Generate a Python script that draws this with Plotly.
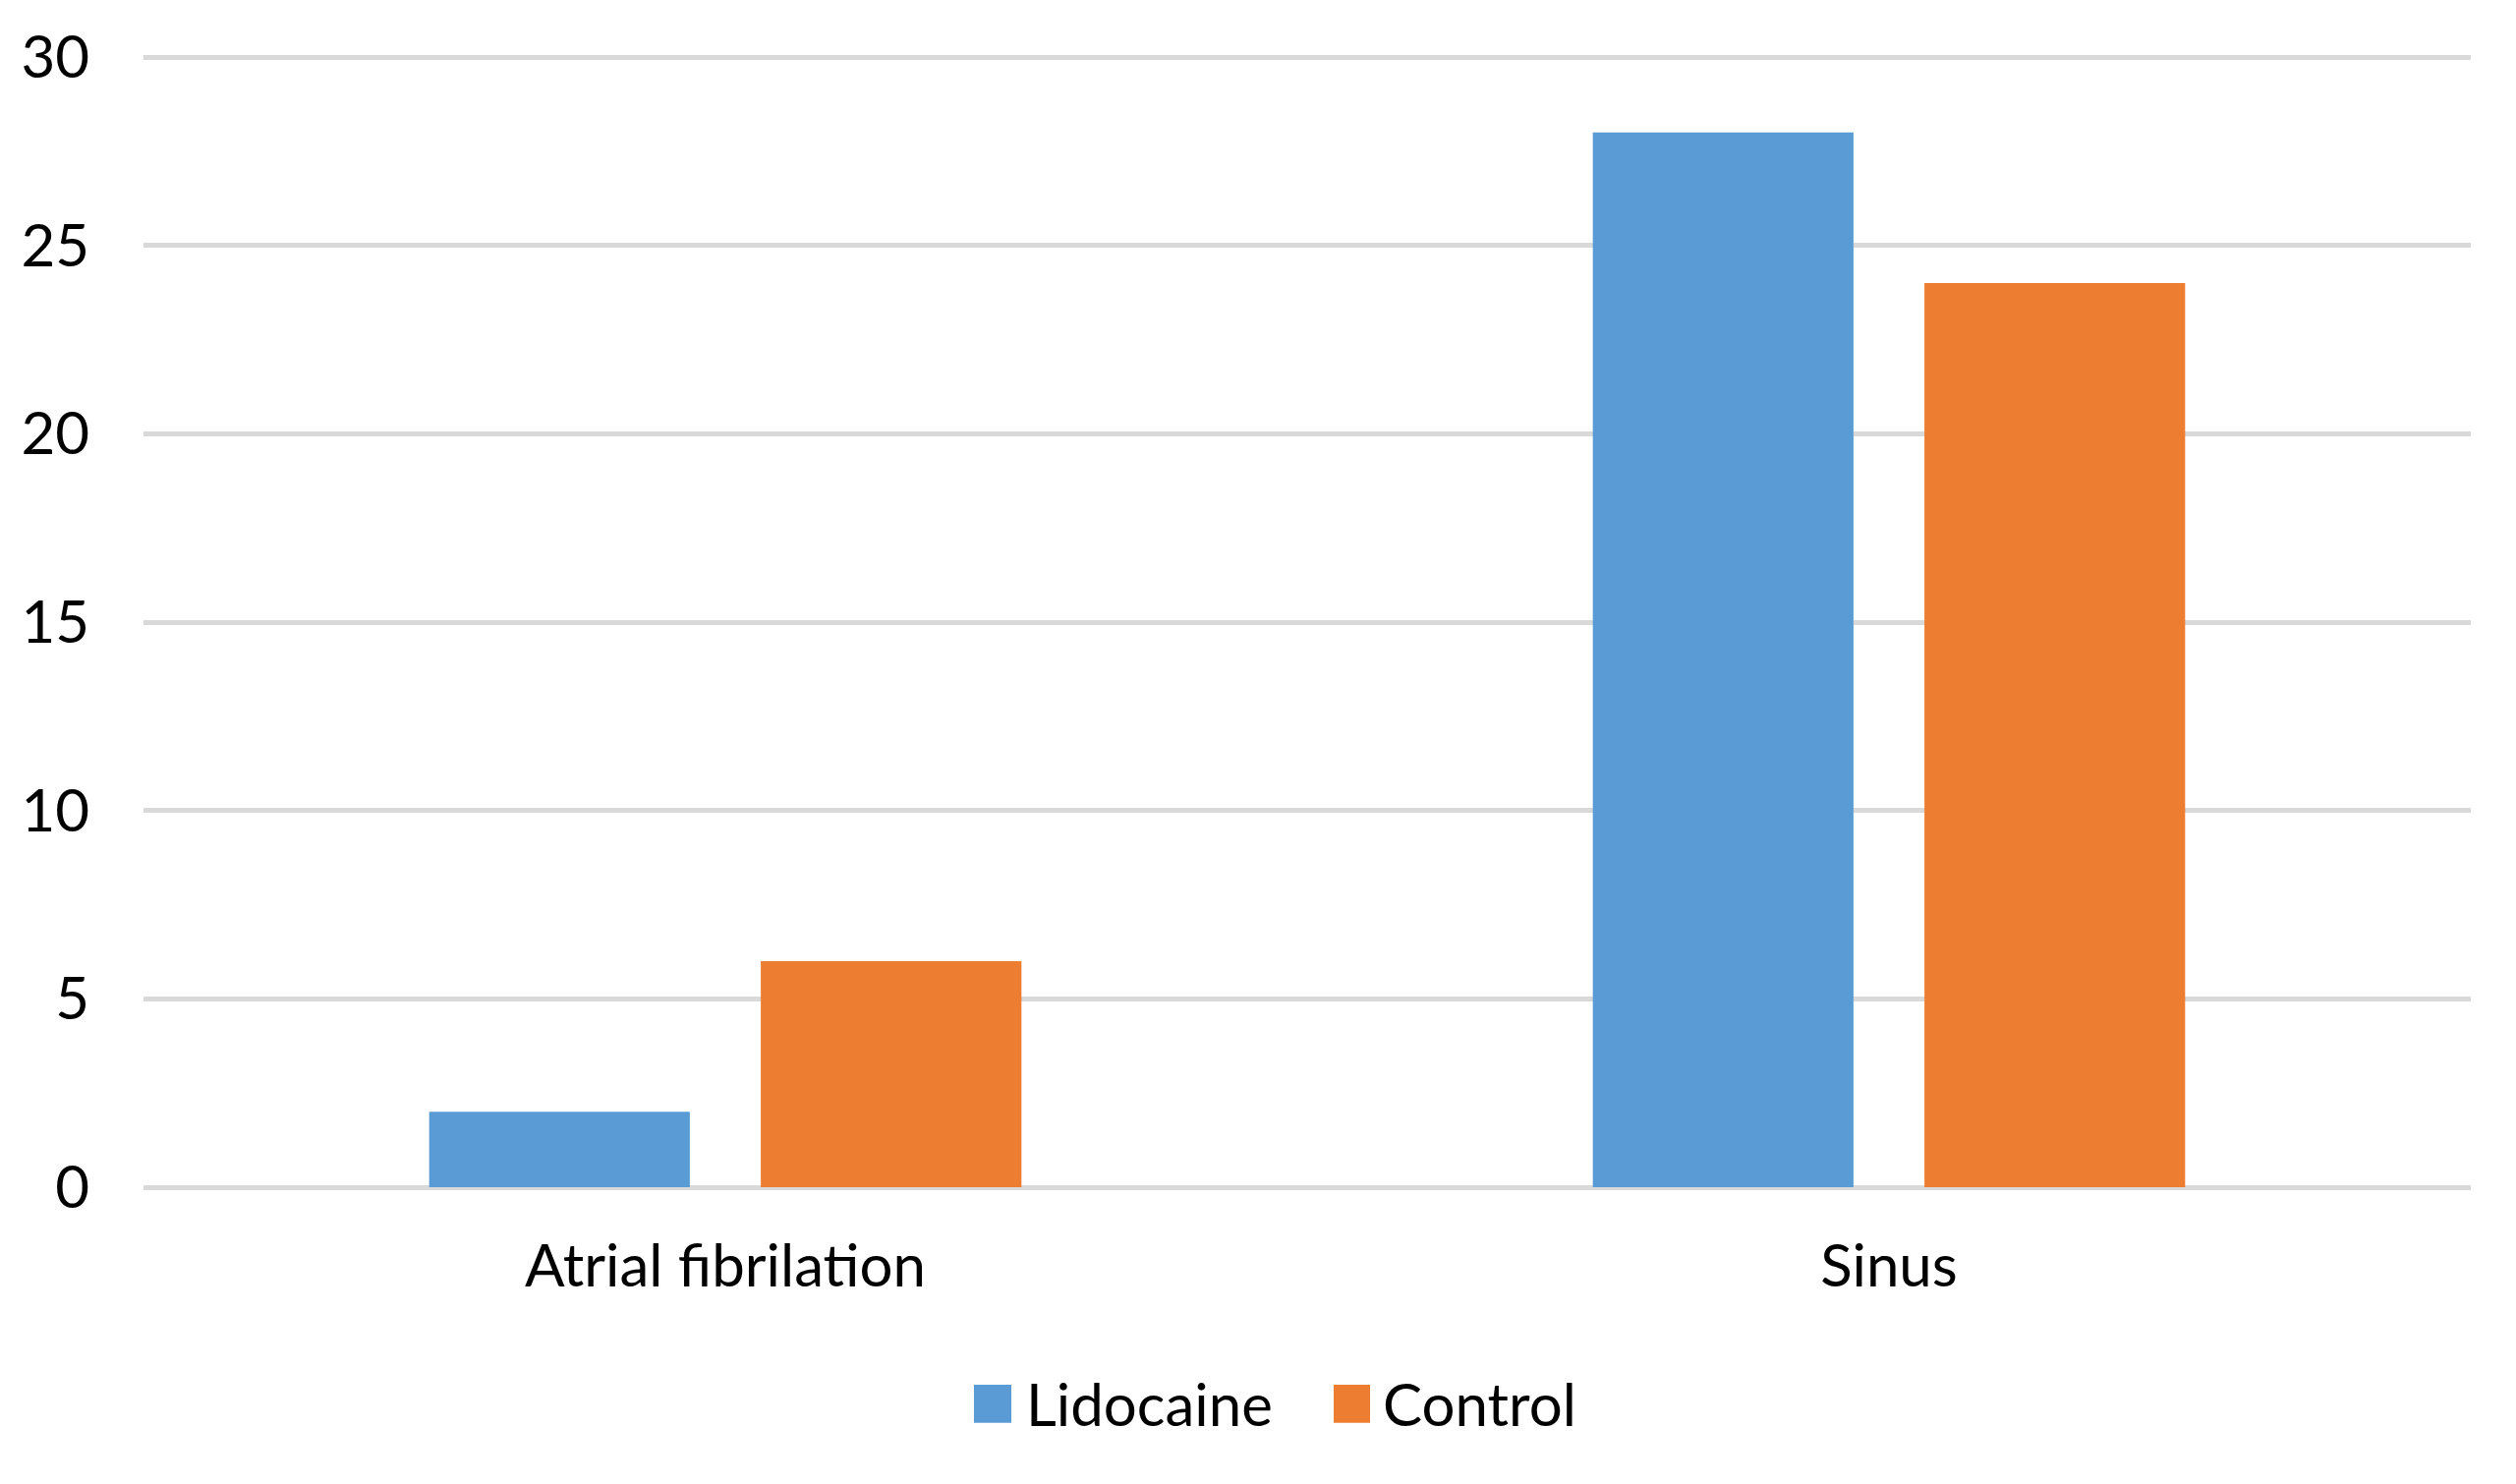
import plotly.graph_objects as go

categories = ["Atrial fibrilation", "Sinus"]
series_names = ["Lidocaine", "Control"]
lidocaine = [2, 28]
control = [6, 24]
colors = ["#5B9BD5", "#ED7D31"]
y_ticks = [0, 5, 10, 15, 20, 25, 30]

W, H = 2560, 1510
L, R, T, B = 138, 54, 38, 310
FONT = "Lato"
FS = 60

fig = go.Figure()
for name, vals, col in zip(series_names, [lidocaine, control], colors):
    fig.add_trace(go.Bar(x=categories, y=vals, name=name, marker_color=col,
                         marker_line_width=0, showlegend=False))

pw, ph = W - L - R, H - T - B
def px(x):
    return (x - L) / pw
def py(y):
    return (H - B - y) / ph

# manual legend (large square swatches like the original)
legend_items = [(983, 1021, 1034), (1349, 1386, 1397)]
shapes, annotations = [], []
for (x0, x1, tx), name, col in zip(legend_items, series_names, colors):
    shapes.append(dict(type="rect", xref="paper", yref="paper",
                       x0=px(x0), x1=px(x1), y0=py(1442), y1=py(1403),
                       fillcolor=col, line_width=0))
    annotations.append(dict(xref="paper", yref="paper", x=px(tx), y=py(1422),
                            text=name, showarrow=False, xanchor="left", yanchor="middle",
                            font=dict(family=FONT, size=FS, color="#000000")))

fig.update_layout(
    width=W, height=H,
    margin=dict(l=L, r=R, t=T, b=B, pad=0),
    paper_bgcolor="white", plot_bgcolor="white",
    barmode="group", bargap=0.43, bargroupgap=0.214,
    font=dict(family=FONT, size=FS, color="#000000"),
    shapes=shapes, annotations=annotations,
)
fig.update_yaxes(range=[0, 30.03], tickvals=y_ticks, showgrid=True, gridcolor="#D9D9D9",
                 gridwidth=5, zeroline=True, zerolinecolor="#D9D9D9", zerolinewidth=5,
                 showline=False, ticks="", ticklabelstandoff=54,
                 tickfont=dict(family=FONT, size=FS, color="#000000"))
fig.update_xaxes(showgrid=False, showline=False, ticks="", ticklabelstandoff=40,
                 tickfont=dict(family=FONT, size=FS, color="#000000"))

fig.write_html("out.html")
